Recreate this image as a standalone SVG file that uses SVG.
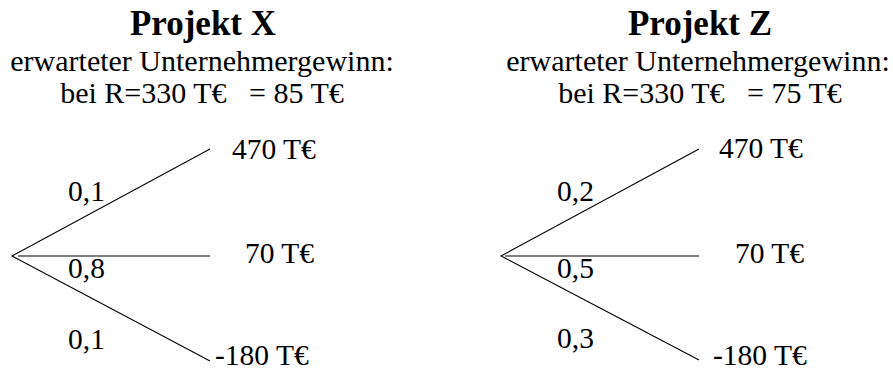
<svg xmlns="http://www.w3.org/2000/svg" width="893" height="373" viewBox="0 0 893 373">
<style>
text{font-family:"Liberation Serif","Times New Roman",Times,serif;fill:#000}
.title{font-size:35px;font-weight:bold;text-anchor:middle}
.sub{font-size:30px;text-anchor:middle}
.lbl{font-size:29.5px}
.edge{stroke:#000;stroke-width:1.1;fill:none}
</style>
<rect width="893" height="373" fill="#fff"/>
<g id="header-x">
<text class="title" x="203" y="35">Projekt X</text>
<text class="sub" x="202" y="71">erwarteter Unternehmergewinn:</text>
<text class="sub" x="202" y="103" xml:space="preserve">bei R=330 T€   = 85 T€</text>
</g>
<g id="header-z">
<text class="title" x="700" y="35">Projekt Z</text>
<text class="sub" x="698" y="71">erwarteter Unternehmergewinn:</text>
<text class="sub" x="700" y="103" xml:space="preserve">bei R=330 T€   = 75 T€</text>
</g>
<g id="connectors">
<path class="edge" d="M210,149 L12,256 L210,361"/>
<path class="edge" d="M18,256 H210"/>
<path class="edge" d="M699,149 L501,256 L699,360"/>
<path class="edge" d="M505,256 H699"/>
</g>
<g id="tree-x">
<g id="x-p1"><text class="lbl" x="68" y="201">0,1</text></g>
<g id="x-p2"><text class="lbl" x="68" y="278">0,8</text></g>
<g id="x-p3"><text class="lbl" x="68" y="349">0,1</text></g>
<g id="x-o1"><text class="lbl" x="232" y="159">470 T€</text></g>
<g id="x-o2"><text class="lbl" x="245" y="263">70 T€</text></g>
<g id="x-o3"><text class="lbl" x="215" y="365">-180 T€</text></g>
</g>
<g id="tree-z">
<g id="z-p1"><text class="lbl" x="557" y="201">0,2</text></g>
<g id="z-p2"><text class="lbl" x="557" y="278">0,5</text></g>
<g id="z-p3"><text class="lbl" x="557" y="348">0,3</text></g>
<g id="z-o1"><text class="lbl" x="719" y="158">470 T€</text></g>
<g id="z-o2"><text class="lbl" x="735" y="263">70 T€</text></g>
<g id="z-o3"><text class="lbl" x="713" y="365">-180 T€</text></g>
</g>
</svg>
